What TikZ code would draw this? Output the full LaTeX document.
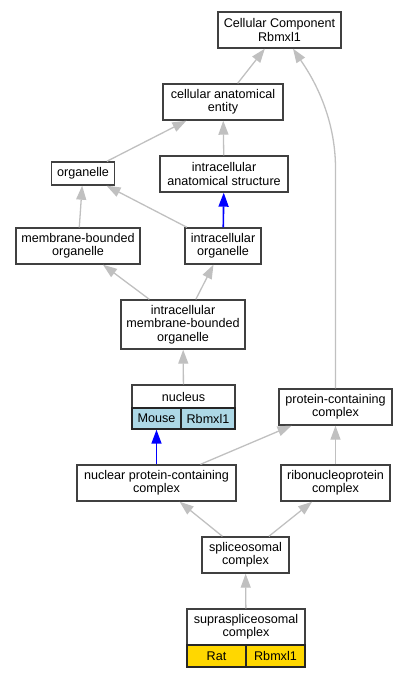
\documentclass[tikz,border=0pt]{standalone}
\usepackage{fontspec}
\setmainfont{Liberation Sans}
\usetikzlibrary{arrows.meta}
\definecolor{edgegray}{HTML}{C0C0C0}
\definecolor{boxline}{HTML}{404040}
\definecolor{mousecell}{HTML}{ADD8E6}
\definecolor{ratcell}{HTML}{FFD700}
\tikzset{
  box/.style={draw=boxline, line width=1.4pt, fill=white, inner sep=0pt, align=center,
    font=\fontsize{12.6}{13.3}\selectfont},
  cell/.style={box, draw=black!85, minimum height=21pt},
  edge/.style={draw=edgegray, line width=1.3pt, -{Triangle[length=14pt,width=10pt]}},
  isaedge/.style={edge, draw=blue, line width=1.6pt}
}
\begin{document}
\begin{tikzpicture}[x=1pt,y=-1pt]
\useasboundingbox (0,0) rectangle (408,677);
\foreach \nd/\cx/\cy/\bw/\bh/\txt in {
  cc/279.5/30/123/36/{Cellular Component\\Rbmxl1},
  cae/223/102/120/36/{cellular anatomical\\entity},
  org/83/173.5/63/23/{organelle},
  ias/224/174/128/36/{intracellular\\anatomical structure},
  mbo/78/246/124/36/{membrane-bounded\\organelle},
  io/223/246/76/36/{intracellular\\organelle},
  imbo/183/324.5/124/49/{intracellular\\membrane-bounded\\organelle},
  nuc/183.5/396.5/103/23/{nucleus},
  pcc/335.5/407/113/36/{protein-containing\\complex},
  npcc/156.5/483/159/36/{nuclear protein-containing\\complex},
  rnp/335.5/483/109/36/{ribonucleoprotein\\complex},
  spl/245.5/555/87/36/{spliceosomal\\complex},
  supra/246/627/118/36/{supraspliceosomal\\complex}} {
  \node[box, minimum width=\bw pt, minimum height=\bh pt] (\nd) at (\cx,\cy) {\txt};
}
% annotation cells
\node[cell, fill=mousecell, minimum width=49pt] (mouse) at (156.5,418.5) {Mouse};
\node[cell, fill=mousecell, minimum width=54pt] (nucgene) at (208,418.5) {Rbmxl1};
\node[cell, fill=ratcell, minimum width=59pt, minimum height=22pt] (rat) at (216.5,656) {Rat};
\node[cell, fill=ratcell, minimum width=59pt, minimum height=22pt] (supragene) at (275.5,656) {Rbmxl1};
% is_a edges
\foreach \a/\b in {cae/cc, org/cae, ias/cae, mbo/org, io/org, imbo/mbo, imbo/io,
  nuc/imbo, npcc/pcc, rnp/pcc, spl/npcc, spl/rnp, supra/spl}
  \draw[edge] (\a) -- (\b);
\draw[edge] (pcc.north) -- ++(0,-220) .. controls +(0,-60) and +(12,18) .. ([xshift=13.5pt]cc.south);
\draw[isaedge] (io) -- (ias);
\draw[isaedge] (npcc) -- (mouse);
\end{tikzpicture}
\end{document}
